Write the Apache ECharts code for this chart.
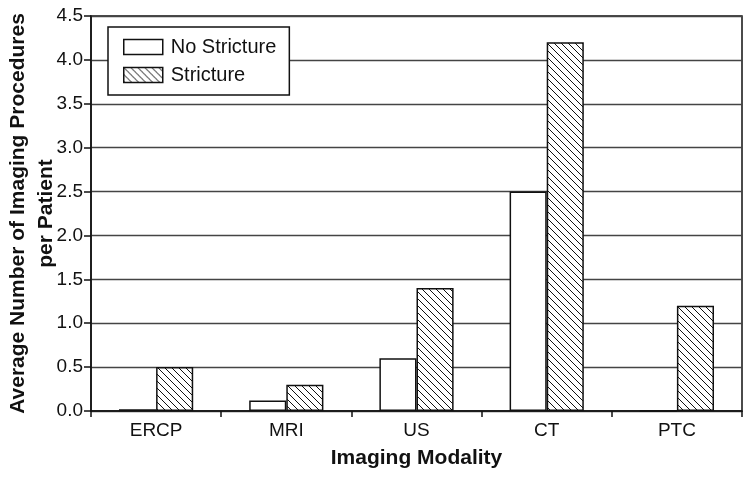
<!DOCTYPE html>
<html><head><meta charset="utf-8">
<script src="https://cdn.jsdelivr.net/npm/echarts@6/dist/echarts.min.js"></script>
<style>html,body{margin:0;padding:0;background:#fff}#c{width:751px;height:477px}</style>
</head><body><div id="c"></div>
<script>
const categories = ['ERCP', 'MRI', 'US', 'CT', 'PTC'];
const noStricture = [0.02, 0.12, 0.6, 2.5, 0];
const stricture = [0.5, 0.3, 1.4, 4.2, 1.2];
const yTicks = ['0.0','0.5','1.0','1.5','2.0','2.5','3.0','3.5','4.0','4.5'];

function hatch() {
  const s = 7;
  const cv = document.createElement('canvas');
  cv.width = s; cv.height = s;
  const g = cv.getContext('2d');
  g.fillStyle = '#fff'; g.fillRect(0,0,s,s);
  g.strokeStyle = '#111'; g.lineWidth = 1;
  g.beginPath();
  g.moveTo(-1,-1); g.lineTo(s+1,s+1);
  g.moveTo(-s/2, s/2); g.lineTo(s/2, s*1.5);
  g.moveTo(s/2, -s/2); g.lineTo(s*1.5, s/2);
  g.stroke();
  return {image: cv, repeat: 'repeat'};
}
const pat = hatch();
const font = 'Liberation Sans, Arial, sans-serif';
const chart = echarts.init(document.getElementById('c'));
chart.setOption({
  animation: false,
  textStyle: {fontFamily: font},
  grid: {left: 91, right: 9, top: 16, bottom: 66, show: true, borderColor: '#111', borderWidth: 1.5,
         outerBoundsMode: 'none', containLabel: false},
  legend: {
    left: 108, top: 27, orient: 'vertical', itemWidth: 39, itemHeight: 15, itemGap: 8, icon: 'rect',
    padding: [10, 13, 10, 15], backgroundColor: '#fff', borderColor: '#111', borderWidth: 1.5,
    textStyle: {fontSize: 20, color: '#111', fontFamily: font, padding: [0, 0, 0, 3]},
    data: [{name: 'No Stricture', itemStyle: {color: '#fff', borderColor: '#111', borderWidth: 1.5}},
           {name: 'Stricture', itemStyle: {color: pat, borderColor: '#111', borderWidth: 1.5}}]
  },
  xAxis: {
    type: 'category', data: categories,
    name: 'Imaging Modality', nameLocation: 'middle', nameGap: 37,
    nameTextStyle: {fontSize: 21, fontWeight: 'bold', color: '#111', fontFamily: font},
    axisLine: {lineStyle: {color: '#111', width: 1.5}},
    axisTick: {show: true, length: 6, lineStyle: {color: '#111', width: 1.5}},
    axisLabel: {fontSize: 19, color: '#111', margin: 10, fontFamily: font}
  },
  yAxis: {
    type: 'value', min: 0, max: 4.5, interval: 0.5,
    name: 'Average Number of Imaging Procedures\nper Patient', nameLocation: 'middle', nameGap: 31,
    nameMoveOverlap: false,
    nameTextStyle: {fontSize: 21, fontWeight: 'bold', color: '#111', lineHeight: 28, fontFamily: font},
    axisLine: {show: true, lineStyle: {color: '#111', width: 1.5}},
    axisTick: {show: true, length: 7, inside: false, lineStyle: {color: '#111', width: 1.5}},
    axisLabel: {fontSize: 19, color: '#111', margin: 8, fontFamily: font,
      formatter: (v) => yTicks[Math.round(v / 0.5)]},
    splitLine: {lineStyle: {color: '#444', width: 1.3}}
  },
  series: [
    {name: 'No Stricture', type: 'bar', data: noStricture, barGap: '0%', barCategoryGap: '43%',
     itemStyle: {color: '#fff', borderColor: '#111', borderWidth: 1.5}},
    {name: 'Stricture', type: 'bar', data: stricture, barGap: '0%', barCategoryGap: '43%',
     itemStyle: {color: pat, borderColor: '#111', borderWidth: 1.5}}
  ]
});
</script></body></html>
